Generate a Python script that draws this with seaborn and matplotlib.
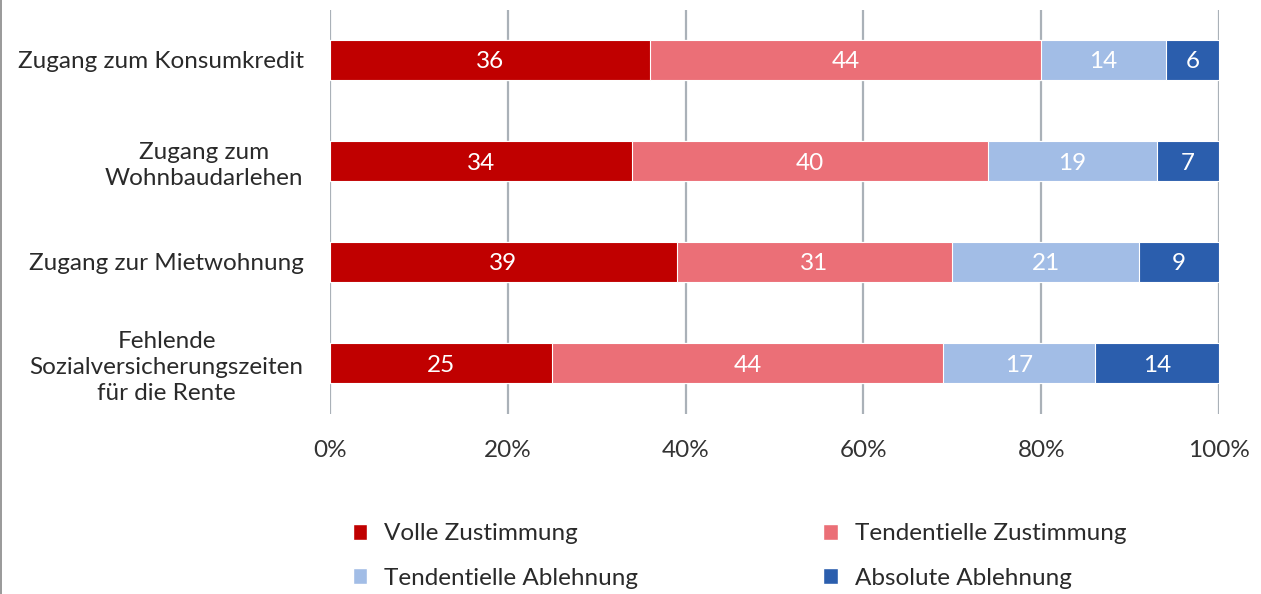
import matplotlib
matplotlib.use("Agg")
import matplotlib.pyplot as plt
import seaborn as sns
import numpy as np
import pandas as pd
from matplotlib.patches import Patch
from matplotlib.lines import Line2D

categories = ["Zugang zum Konsumkredit", "Zugang zum\nWohnbaudarlehen",
              "Zugang zur Mietwohnung", "Fehlende\nSozialversicherungszeiten\nfür die Rente"]
series_names = ["Volle Zustimmung", "Tendentielle Zustimmung", "Tendentielle Ablehnung", "Absolute Ablehnung"]
volle = [36, 34, 39, 25]
tend_zust = [44, 40, 31, 44]
tend_abl = [14, 19, 21, 17]
abs_abl = [6, 7, 9, 14]
colors = ["#c00000", "#eb6f77", "#a2bde6", "#2b5ead"]
xticks = [0, 20, 40, 60, 80, 100]
xtick_labels = ["0%", "20%", "40%", "60%", "80%", "100%"]

sns.set_theme(style="white")
plt.rcParams['font.family'] = ['Lato', 'DejaVu Sans']

FS = 17.5
TXT = "#2a2a2a"

series = [volle, tend_zust, tend_abl, abs_abl]
vals = np.array(series, dtype=float)
totals = vals.sum(axis=0)
pct = vals / totals * 100
cum = np.cumsum(pct, axis=0)

fig = plt.figure(figsize=(12.61, 5.94), dpi=100)
ax = fig.add_axes([330/1261, 1-413.5/594, (1219-330)/1261, (413.5-9.5)/594])

# draw cumulative bars from the largest to the smallest so they stack
for i in range(3, -1, -1):
    df = pd.DataFrame({"cat": categories, "val": cum[i]})
    sns.barplot(data=df, y="cat", x="val", orient="h", color=colors[i], width=0.4,
                edgecolor="white", linewidth=0.8, ax=ax, zorder=3, saturation=1)

for i in range(4):
    start = cum[i] - pct[i]
    for j in range(len(categories)):
        ax.text(start[j] + pct[i][j] / 2, j, f"{series[i][j]:g}", ha="center", va="center_baseline",
                color="white", fontsize=FS, zorder=5)

ax.set_xlim(0, 100)
ax.set_ylim(3.5, -0.5)
ax.set_xticks(xticks)
ax.set_xticklabels(xtick_labels, fontsize=FS, color="#333333")
ax.set_xlabel("")
ax.set_ylabel("")
for lab in ax.get_yticklabels():
    lab.set_multialignment("center")
    lab.set_fontsize(FS)
    lab.set_color(TXT)
    lab.set_linespacing(1.3)
ax.tick_params(axis="x", length=0, pad=19)
ax.tick_params(axis="y", length=0, pad=19)
ax.grid(axis="x", color="#aab1b8", linewidth=1.6, zorder=0)
ax.grid(axis="y", visible=False)
ax.set_axisbelow(True)
for s in ax.spines.values():
    s.set_visible(False)

handles = [Patch(facecolor=colors[0], label=series_names[0]),
           Patch(facecolor=colors[2], label=series_names[2]),
           Patch(facecolor=colors[1], label=series_names[1]),
           Patch(facecolor=colors[3], label=series_names[3])]
fig.legend(handles=handles, ncol=2, loc="center left", bbox_to_anchor=(331/1261, 1-556/594),
           frameon=False, prop={"size": FS}, handlelength=0.6, handleheight=0.6,
           handletextpad=0.7, columnspacing=7.6, labelspacing=0.95, labelcolor=TXT)

fig.add_artist(Line2D([1.5/1261, 1.5/1261], [0, 1], color="#888888", linewidth=1.2))

fig.savefig("out.png", dpi=100)
